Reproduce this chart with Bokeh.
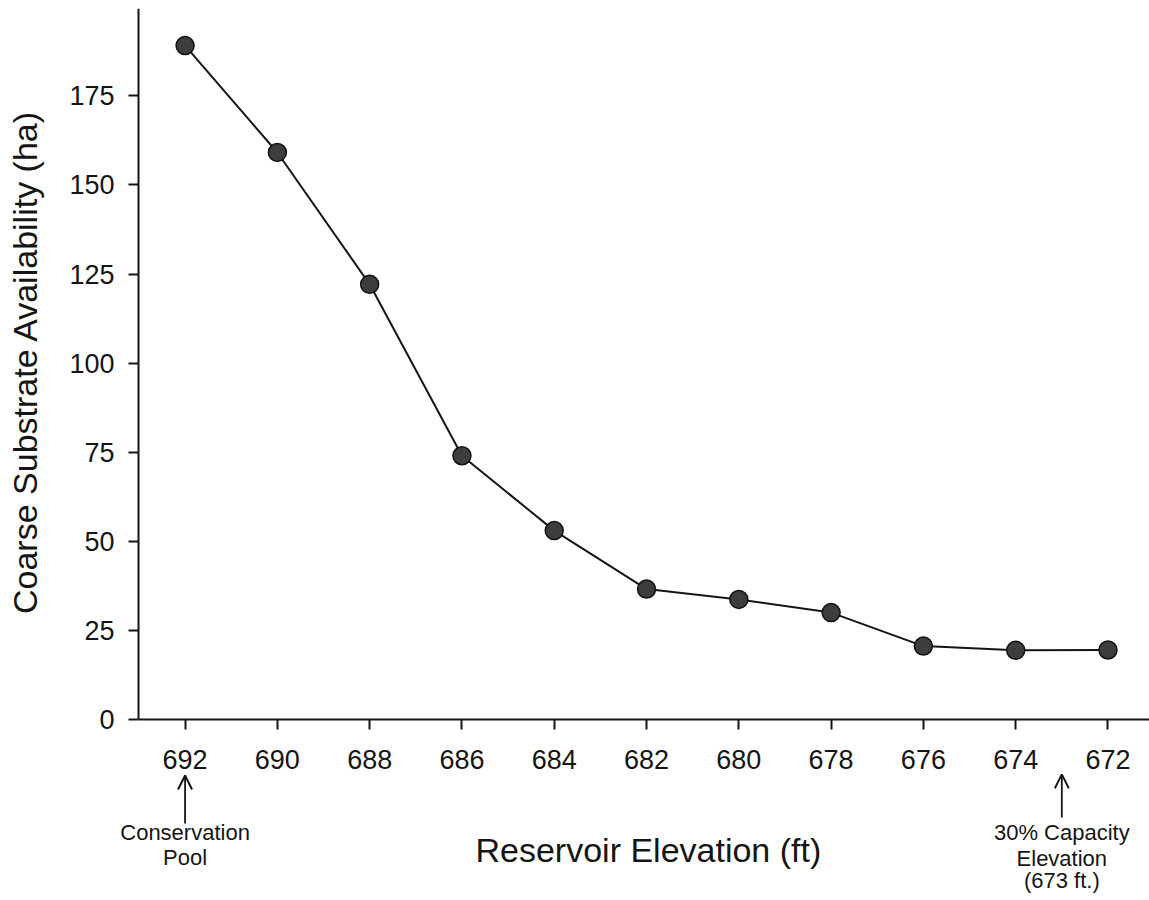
import math

from bokeh.plotting import figure
from bokeh.models import Range1d, Arrow, OpenHead, Label, FixedTicker, ColumnDataSource
from bokeh.embed import file_html
from bokeh.resources import INLINE

# Reservoir elevation (ft) and coarse substrate availability (ha)
elevation = [692, 690, 688, 686, 684, 682, 680, 678, 676, 674, 672]
availability = [189.1, 159.1, 122.1, 74.0, 53.0, 36.6, 33.7, 30.0, 20.6, 19.4, 19.5]

x_ticks = [692, 690, 688, 686, 684, 682, 680, 678, 676, 674, 672]
y_ticks = [0, 25, 50, 75, 100, 125, 150, 175]

# reference elevations marked under the axis
conservation_pool = 692
capacity_30pct = 673

FONT = "Liberation Sans"
INK = "#151515"

# The frame fills the page so the axis titles and the notes under the x axis
# sit inside it; both axes are pinned at fixed data locations instead.
X_LEFT, X_RIGHT = 696.0, 671.1
Y_TOP, Y_BOTTOM = 199.5, -50.79
Y_AXIS_AT = 693.01

src = ColumnDataSource(data=dict(x=elevation, y=availability))

p = figure(
    width=1149, height=900,
    x_range=Range1d(X_LEFT, X_RIGHT),
    y_range=Range1d(Y_BOTTOM, Y_TOP),
    output_backend="svg", toolbar_location=None,
    min_border_left=0, min_border_right=0,
    min_border_top=8, min_border_bottom=0,
    background_fill_color="white", border_fill_color="white",
)
p.outline_line_color = None
p.grid.grid_line_color = None

for ax in (p.xaxis[0], p.yaxis[0]):
    ax.axis_line_width = 2
    ax.axis_line_color = INK
    ax.major_tick_line_width = 2
    ax.major_tick_line_color = INK
    ax.major_tick_out = 10
    ax.major_tick_in = 0
    ax.minor_tick_out = 0
    ax.minor_tick_in = 0
    ax.major_label_text_font = FONT
    ax.major_label_text_font_size = "27px"
    ax.major_label_text_color = INK

p.xaxis.fixed_location = 0
p.xaxis.bounds = (X_RIGHT, Y_AXIS_AT)
p.yaxis.fixed_location = Y_AXIS_AT
p.yaxis.bounds = (0, Y_TOP)

p.xaxis.ticker = FixedTicker(ticks=x_ticks)
p.yaxis.ticker = FixedTicker(ticks=y_ticks)
p.xaxis.major_label_standoff = 21
p.yaxis.major_label_standoff = 14

p.line("x", "y", source=src, line_color=INK, line_width=2)
p.scatter("x", "y", source=src, size=18, fill_color="#3d3d3d",
          line_color="#111111", line_width=1.5)

# axis titles
p.add_layout(Label(
    x=681.96, y=-36.5, text="Reservoir Elevation (ft)",
    text_align="center", text_baseline="alphabetic",
    text_font=FONT, text_font_size="34px", text_color=INK,
))
p.add_layout(Label(
    x=695.46, y=100.3, text="Coarse Substrate Availability (ha)", angle=math.pi / 2,
    text_align="center", text_baseline="alphabetic",
    text_font=FONT, text_font_size="34px", text_color=INK,
))

# arrows pointing up at the marked elevations
for xe, y0, y1 in ((conservation_pool, -29.2, -15.7), (capacity_30pct, -27.5, -15.4)):
    p.add_layout(Arrow(
        end=OpenHead(size=14, line_width=2, line_color=INK),
        x_start=xe, y_start=y0, x_end=xe, y_end=y1,
        line_width=1.8, line_color=INK,
    ))

notes = [
    (conservation_pool, -31.7, "Conservation"),
    (conservation_pool, -38.7, "Pool"),
    (capacity_30pct, -31.7, "30% Capacity"),
    (capacity_30pct, -39.0, "Elevation"),
    (capacity_30pct, -45.2, "(673 ft.)"),
]
for xe, yy, txt in notes:
    p.add_layout(Label(
        x=xe, y=yy, text=txt, text_align="center", text_baseline="alphabetic",
        text_font=FONT, text_font_size="22px", text_color=INK,
    ))

open("out.html", "w").write(file_html(p, INLINE))
